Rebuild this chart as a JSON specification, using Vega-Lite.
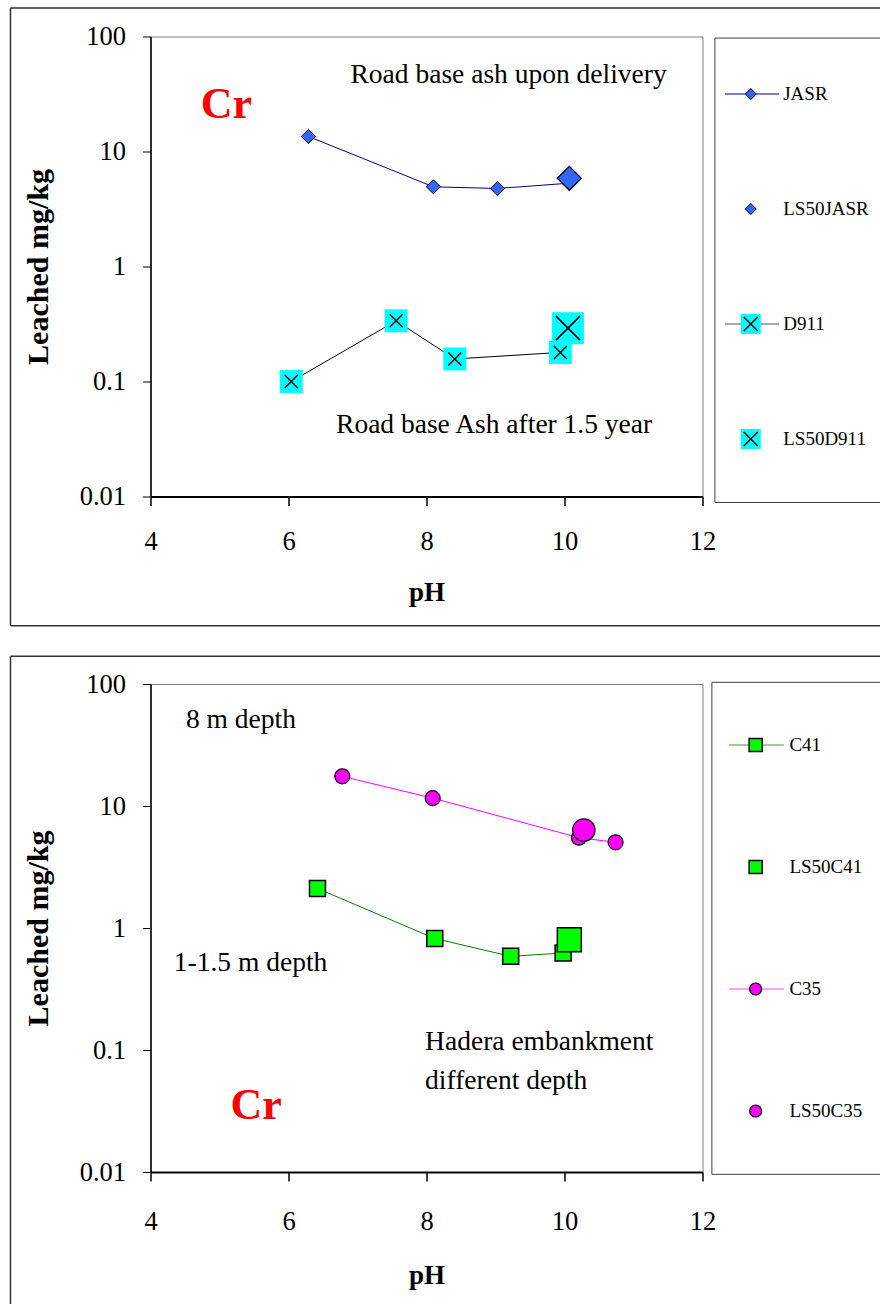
{
  "$schema": "https://vega.github.io/schema/vega-lite/v6.json",
  "padding": {"left": 8.5, "top": 6.5, "right": 0, "bottom": 0},
  "background": "white",
  "spacing": 27.5,
  "datasets": {
    "top": [
      {"series": "JASR", "pH": 6.29, "value": 13.5},
      {"series": "JASR", "pH": 8.10, "value": 4.93},
      {"series": "JASR", "pH": 9.03, "value": 4.77},
      {"series": "JASR", "pH": 10.07, "value": 5.3},
      {"series": "LS50JASR", "pH": 10.07, "value": 5.85},
      {"series": "D911", "pH": 6.04, "value": 0.100},
      {"series": "D911", "pH": 7.56, "value": 0.337},
      {"series": "D911", "pH": 8.41, "value": 0.157},
      {"series": "D911", "pH": 9.94, "value": 0.179},
      {"series": "LS50D911", "pH": 10.05, "value": 0.291}
    ],
    "bottom": [
      {"series": "C41", "pH": 6.42, "value": 2.11},
      {"series": "C41", "pH": 8.12, "value": 0.82},
      {"series": "C41", "pH": 9.22, "value": 0.586},
      {"series": "C41", "pH": 9.98, "value": 0.624},
      {"series": "LS50C41", "pH": 10.07, "value": 0.80},
      {"series": "C35", "pH": 6.78, "value": 17.5},
      {"series": "C35", "pH": 8.09, "value": 11.6},
      {"series": "C35", "pH": 10.21, "value": 5.5},
      {"series": "C35", "pH": 10.74, "value": 5.04},
      {"series": "LS50C35", "pH": 10.28, "value": 6.35}
    ],
    "topLegend": [{"series": "JASR"}, {"series": "LS50JASR"}, {"series": "D911"}, {"series": "LS50D911"}],
    "bottomLegend": [{"series": "C41"}, {"series": "LS50C41"}, {"series": "C35"}, {"series": "LS50C35"}],
    "one": [{}]
  },
  "vconcat": [
    {
      "width": 552,
      "height": 460,
      "resolve": {"scale": {"y": "independent"}},
      "layer": [
        {
          "layer": [
            {"data": {"name": "one"}, "mark": {"type": "rule", "color": "#333333", "strokeWidth": 1.5},
             "encoding": {"x": {"datum": 1.971, "type": "quantitative"}, "x2": {"datum": 14.6}, "y": {"datum": 176.6, "type": "quantitative"}}},
            {"data": {"name": "one"}, "mark": {"type": "rule", "color": "#333333", "strokeWidth": 1.5},
             "encoding": {"x": {"datum": 1.971, "type": "quantitative"}, "x2": {"datum": 14.6}, "y": {"datum": 0.000751, "type": "quantitative"}}},
            {"data": {"name": "one"}, "mark": {"type": "rule", "color": "#333333", "strokeWidth": 1.5},
             "encoding": {"x": {"datum": 1.971, "type": "quantitative"}, "y": {"datum": 176.6, "type": "quantitative"}, "y2": {"datum": 0.000751}}},
            {"data": {"name": "one"}, "mark": {"type": "rule", "color": "#404040", "strokeWidth": 1},
             "encoding": {"x": {"datum": 12.18, "type": "quantitative"}, "x2": {"datum": 14.6}, "y": {"datum": 96.9, "type": "quantitative"}}},
            {"data": {"name": "one"}, "mark": {"type": "rule", "color": "#404040", "strokeWidth": 1},
             "encoding": {"x": {"datum": 12.18, "type": "quantitative"}, "x2": {"datum": 14.6}, "y": {"datum": 0.00887, "type": "quantitative"}}},
            {"data": {"name": "one"}, "mark": {"type": "rule", "color": "#404040", "strokeWidth": 1},
             "encoding": {"x": {"datum": 12.18, "type": "quantitative"}, "y": {"datum": 96.9, "type": "quantitative"}, "y2": {"datum": 0.00887}}},
            {
              "data": {"name": "top"},
              "transform": [{"filter": "datum.series === 'JASR'"}],
              "mark": {"type": "line", "color": "#000080", "strokeWidth": 1},
              "encoding": {
                "x": {"field": "pH", "type": "quantitative", "title": "pH",
                      "scale": {"domain": [4, 12], "nice": false, "zero": false},
                      "axis": {"values": [4, 6, 8, 10, 12], "format": "d", "title": "pH", "titleFontSize": 27, "tickSize": 9, "labelPadding": 23, "titlePadding": 24, "domainWidth": 2, "tickWidth": 1.5, "labelFlush": false, "labelOverlap": false}},
                "y": {"field": "value", "type": "quantitative", "title": "Leached mg/kg",
                      "scale": {"type": "log", "domain": [0.01, 100], "nice": false},
                      "axis": {"values": [0.01, 0.1, 1, 10, 100], "format": "~g", "title": "Leached mg/kg", "titleFontSize": 30, "tickSize": 8, "labelPadding": 17, "titlePadding": 26, "domainWidth": 1.5, "labelFlush": false, "labelOverlap": false}}
              }
            },
            {
              "data": {"name": "top"},
              "transform": [{"filter": "datum.series === 'JASR'"}],
              "mark": {"type": "point", "shape": "diamond", "filled": true, "fill": "#3366ff", "stroke": "black", "strokeWidth": 1, "size": 196, "opacity": 1},
              "encoding": {"x": {"field": "pH", "type": "quantitative", "title": "pH"}, "y": {"field": "value", "type": "quantitative", "title": "Leached mg/kg"}}
            },
            {
              "data": {"name": "top"},
              "transform": [{"filter": "datum.series === 'LS50JASR'"}],
              "mark": {"type": "point", "shape": "diamond", "filled": true, "fill": "#3366ff", "stroke": "black", "strokeWidth": 1.2, "size": 576, "opacity": 1},
              "encoding": {"x": {"field": "pH", "type": "quantitative", "title": "pH"}, "y": {"field": "value", "type": "quantitative", "title": "Leached mg/kg"}}
            },
            {
              "data": {"name": "top"},
              "transform": [{"filter": "datum.series === 'D911'"}],
              "mark": {"type": "line", "color": "#000000", "strokeWidth": 1},
              "encoding": {"x": {"field": "pH", "type": "quantitative", "title": "pH"}, "y": {"field": "value", "type": "quantitative", "title": "Leached mg/kg"}}
            },
            {
              "data": {"name": "top"},
              "transform": [{"filter": "datum.series === 'D911'"}],
              "mark": {"type": "point", "shape": "square", "filled": true, "fill": "#00ffff", "strokeWidth": 0, "size": 529, "opacity": 1},
              "encoding": {"x": {"field": "pH", "type": "quantitative", "title": "pH"}, "y": {"field": "value", "type": "quantitative", "title": "Leached mg/kg"}}
            },
            {
              "data": {"name": "top"},
              "transform": [{"filter": "datum.series === 'D911'"}],
              "mark": {"type": "point", "shape": "M-1,-1L1,1M1,-1L-1,1", "filled": false, "stroke": "black", "strokeWidth": 1.5, "size": 169, "opacity": 1},
              "encoding": {"x": {"field": "pH", "type": "quantitative", "title": "pH"}, "y": {"field": "value", "type": "quantitative", "title": "Leached mg/kg"}}
            },
            {
              "data": {"name": "top"},
              "transform": [{"filter": "datum.series === 'LS50D911'"}],
              "mark": {"type": "point", "shape": "square", "filled": true, "fill": "#00ffff", "strokeWidth": 0, "size": 1024, "opacity": 1},
              "encoding": {"x": {"field": "pH", "type": "quantitative", "title": "pH"}, "y": {"field": "value", "type": "quantitative", "title": "Leached mg/kg"}}
            },
            {
              "data": {"name": "top"},
              "transform": [{"filter": "datum.series === 'LS50D911'"}],
              "mark": {"type": "point", "shape": "M-1,-1L1,1M1,-1L-1,1", "filled": false, "stroke": "black", "strokeWidth": 1.8, "size": 576, "opacity": 1},
              "encoding": {"x": {"field": "pH", "type": "quantitative", "title": "pH"}, "y": {"field": "value", "type": "quantitative", "title": "Leached mg/kg"}}
            },
            {"data": {"name": "one"}, "mark": {"type": "text", "text": "Road base ash upon delivery", "font": "Liberation Serif", "fontSize": 27.5, "align": "center", "baseline": "alphabetic", "color": "black"},
             "encoding": {"x": {"datum": 9.19, "type": "quantitative"}, "y": {"datum": 39.6, "type": "quantitative"}}},
            {"data": {"name": "one"}, "mark": {"type": "text", "text": "Road base Ash after 1.5 year", "font": "Liberation Serif", "fontSize": 27.5, "align": "center", "baseline": "alphabetic", "color": "black"},
             "encoding": {"x": {"datum": 8.98, "type": "quantitative"}, "y": {"datum": 0.0358, "type": "quantitative"}}},
            {"data": {"name": "one"}, "mark": {"type": "text", "text": "Cr", "font": "Liberation Serif", "fontSize": 44, "fontWeight": "bold", "align": "center", "baseline": "alphabetic", "color": "#ff0000"},
             "encoding": {"x": {"datum": 5.10, "type": "quantitative"}, "y": {"datum": 19.6, "type": "quantitative"}}}
          ]
        },
        {
          "data": {"name": "topLegend"},
          "encoding": {"y": {"field": "series", "type": "nominal", "sort": null, "scale": {"type": "point", "domain": ["JASR", "LS50JASR", "D911", "LS50D911"], "padding": 0.5}, "axis": null}},
          "layer": [
            {"transform": [{"filter": "datum.series === 'JASR'"}], "mark": {"type": "rule", "color": "#000080", "strokeWidth": 1},
             "encoding": {"x": {"datum": 12.326, "type": "quantitative"}, "x2": {"datum": 13.11}}},
            {"transform": [{"filter": "datum.series === 'D911'"}], "mark": {"type": "rule", "color": "#555555", "strokeWidth": 1},
             "encoding": {"x": {"datum": 12.326, "type": "quantitative"}, "x2": {"datum": 13.11}}},
            {"transform": [{"filter": "datum.series === 'JASR' || datum.series === 'LS50JASR'"}], "mark": {"type": "point", "shape": "diamond", "filled": true, "fill": "#3366ff", "stroke": "black", "strokeWidth": 1, "size": 121, "opacity": 1},
             "encoding": {"x": {"datum": 12.70, "type": "quantitative"}}},
            {"transform": [{"filter": "datum.series === 'D911' || datum.series === 'LS50D911'"}], "mark": {"type": "point", "shape": "square", "filled": true, "fill": "#00ffff", "strokeWidth": 0, "size": 400, "opacity": 1},
             "encoding": {"x": {"datum": 12.70, "type": "quantitative"}}},
            {"transform": [{"filter": "datum.series === 'D911' || datum.series === 'LS50D911'"}], "mark": {"type": "point", "shape": "M-1,-1L1,1M1,-1L-1,1", "filled": false, "stroke": "black", "strokeWidth": 1.5, "size": 196, "opacity": 1},
             "encoding": {"x": {"datum": 12.70, "type": "quantitative"}}},
            {"mark": {"type": "text", "align": "left", "baseline": "middle", "font": "Liberation Serif", "fontSize": 19, "color": "black"},
             "encoding": {"x": {"datum": 13.17, "type": "quantitative"}, "text": {"field": "series"}}}
          ]
        }
      ]
    },
    {
      "width": 552,
      "height": 488,
      "resolve": {"scale": {"y": "independent"}},
      "layer": [
        {
          "layer": [
            {"data": {"name": "one"}, "mark": {"type": "rule", "color": "#333333", "strokeWidth": 1.5},
             "encoding": {"x": {"datum": 1.971, "type": "quantitative"}, "x2": {"datum": 14.6}, "y": {"datum": 168.7, "type": "quantitative"}}},
            {"data": {"name": "one"}, "mark": {"type": "rule", "color": "#333333", "strokeWidth": 1.5},
             "encoding": {"x": {"datum": 1.971, "type": "quantitative"}, "y": {"datum": 168.7, "type": "quantitative"}, "y2": {"datum": 0.000807}}},
            {"data": {"name": "one"}, "mark": {"type": "rule", "color": "#404040", "strokeWidth": 1},
             "encoding": {"x": {"datum": 12.136, "type": "quantitative"}, "x2": {"datum": 14.6}, "y": {"datum": 103.2, "type": "quantitative"}}},
            {"data": {"name": "one"}, "mark": {"type": "rule", "color": "#404040", "strokeWidth": 1},
             "encoding": {"x": {"datum": 12.136, "type": "quantitative"}, "x2": {"datum": 14.6}, "y": {"datum": 0.00957, "type": "quantitative"}}},
            {"data": {"name": "one"}, "mark": {"type": "rule", "color": "#404040", "strokeWidth": 1},
             "encoding": {"x": {"datum": 12.136, "type": "quantitative"}, "y": {"datum": 103.2, "type": "quantitative"}, "y2": {"datum": 0.00957}}},
            {
              "data": {"name": "bottom"},
              "transform": [{"filter": "datum.series === 'C41'"}],
              "mark": {"type": "line", "color": "#008000", "strokeWidth": 1},
              "encoding": {
                "x": {"field": "pH", "type": "quantitative", "title": "pH",
                      "scale": {"domain": [4, 12], "nice": false, "zero": false},
                      "axis": {"values": [4, 6, 8, 10, 12], "format": "d", "title": "pH", "titleFontSize": 27, "tickSize": 9, "labelPadding": 27, "titlePadding": 28, "domainWidth": 2, "tickWidth": 1.5, "labelFlush": false, "labelOverlap": false}},
                "y": {"field": "value", "type": "quantitative", "title": "Leached mg/kg",
                      "scale": {"type": "log", "domain": [0.01, 100], "nice": false},
                      "axis": {"values": [0.01, 0.1, 1, 10, 100], "format": "~g", "title": "Leached mg/kg", "titleFontSize": 30, "tickSize": 8, "labelPadding": 17, "titlePadding": 26, "domainWidth": 1.5, "labelFlush": false, "labelOverlap": false}}
              }
            },
            {
              "data": {"name": "bottom"},
              "transform": [{"filter": "datum.series === 'C41'"}],
              "mark": {"type": "point", "shape": "square", "filled": true, "fill": "#00ff00", "stroke": "black", "strokeWidth": 1.5, "size": 256, "opacity": 1},
              "encoding": {"x": {"field": "pH", "type": "quantitative", "title": "pH"}, "y": {"field": "value", "type": "quantitative", "title": "Leached mg/kg"}}
            },
            {
              "data": {"name": "bottom"},
              "transform": [{"filter": "datum.series === 'LS50C41'"}],
              "mark": {"type": "point", "shape": "square", "filled": true, "fill": "#00ff00", "stroke": "black", "strokeWidth": 1.5, "size": 576, "opacity": 1},
              "encoding": {"x": {"field": "pH", "type": "quantitative", "title": "pH"}, "y": {"field": "value", "type": "quantitative", "title": "Leached mg/kg"}}
            },
            {
              "data": {"name": "bottom"},
              "transform": [{"filter": "datum.series === 'C35'"}],
              "mark": {"type": "line", "color": "#ff00ff", "strokeWidth": 1},
              "encoding": {"x": {"field": "pH", "type": "quantitative", "title": "pH"}, "y": {"field": "value", "type": "quantitative", "title": "Leached mg/kg"}}
            },
            {
              "data": {"name": "bottom"},
              "transform": [{"filter": "datum.series === 'C35'"}],
              "mark": {"type": "point", "shape": "circle", "filled": true, "fill": "#ff00ff", "stroke": "black", "strokeWidth": 1.2, "size": 225, "opacity": 1},
              "encoding": {"x": {"field": "pH", "type": "quantitative", "title": "pH"}, "y": {"field": "value", "type": "quantitative", "title": "Leached mg/kg"}}
            },
            {
              "data": {"name": "bottom"},
              "transform": [{"filter": "datum.series === 'LS50C35'"}],
              "mark": {"type": "point", "shape": "circle", "filled": true, "fill": "#ff00ff", "stroke": "black", "strokeWidth": 1.2, "size": 500, "opacity": 1},
              "encoding": {"x": {"field": "pH", "type": "quantitative", "title": "pH"}, "y": {"field": "value", "type": "quantitative", "title": "Leached mg/kg"}}
            },
            {"data": {"name": "one"}, "mark": {"type": "text", "text": "8 m depth", "font": "Liberation Serif", "fontSize": 27.5, "align": "center", "baseline": "alphabetic", "color": "black"},
             "encoding": {"x": {"datum": 5.31, "type": "quantitative"}, "y": {"datum": 43.4, "type": "quantitative"}}},
            {"data": {"name": "one"}, "mark": {"type": "text", "text": "1-1.5 m depth", "font": "Liberation Serif", "fontSize": 27.5, "align": "center", "baseline": "alphabetic", "color": "black"},
             "encoding": {"x": {"datum": 5.45, "type": "quantitative"}, "y": {"datum": 0.44, "type": "quantitative"}}},
            {"data": {"name": "one"}, "mark": {"type": "text", "text": ["Hadera embankment", "different depth"], "lineHeight": 39.4, "font": "Liberation Serif", "fontSize": 27.5, "align": "left", "baseline": "alphabetic", "color": "black"},
             "encoding": {"x": {"datum": 7.98, "type": "quantitative"}, "y": {"datum": 0.1007, "type": "quantitative"}}},
            {"data": {"name": "one"}, "mark": {"type": "text", "text": "Cr", "font": "Liberation Serif", "fontSize": 44, "fontWeight": "bold", "align": "center", "baseline": "alphabetic", "color": "#ff0000"},
             "encoding": {"x": {"datum": 5.53, "type": "quantitative"}, "y": {"datum": 0.027, "type": "quantitative"}}}
          ]
        },
        {
          "data": {"name": "bottomLegend"},
          "encoding": {"y": {"field": "series", "type": "nominal", "sort": null, "scale": {"type": "point", "domain": ["C41", "LS50C41", "C35", "LS50C35"], "padding": 0.5}, "axis": null}},
          "layer": [
            {"transform": [{"filter": "datum.series === 'C41'"}], "mark": {"type": "rule", "color": "#339933", "strokeWidth": 1},
             "encoding": {"x": {"datum": 12.387, "type": "quantitative"}, "x2": {"datum": 13.18}}},
            {"transform": [{"filter": "datum.series === 'C35'"}], "mark": {"type": "rule", "color": "#ff44ff", "strokeWidth": 1},
             "encoding": {"x": {"datum": 12.387, "type": "quantitative"}, "x2": {"datum": 13.18}}},
            {"transform": [{"filter": "datum.series === 'C41' || datum.series === 'LS50C41'"}], "mark": {"type": "point", "shape": "square", "filled": true, "fill": "#00ff00", "stroke": "black", "strokeWidth": 1.5, "size": 169, "opacity": 1},
             "encoding": {"x": {"datum": 12.77, "type": "quantitative"}}},
            {"transform": [{"filter": "datum.series === 'C35' || datum.series === 'LS50C35'"}], "mark": {"type": "point", "shape": "circle", "filled": true, "fill": "#ff00ff", "stroke": "black", "strokeWidth": 1.2, "size": 144, "opacity": 1},
             "encoding": {"x": {"datum": 12.77, "type": "quantitative"}}},
            {"mark": {"type": "text", "align": "left", "baseline": "middle", "font": "Liberation Serif", "fontSize": 19, "color": "black"},
             "encoding": {"x": {"datum": 13.26, "type": "quantitative"}, "text": {"field": "series"}}}
          ]
        }
      ]
    }
  ],
  "config": {
    "view": {"stroke": "#808080", "strokeWidth": 1},
    "axis": {
      "labelFont": "Liberation Serif", "labelFontSize": 26.5, "labelColor": "black",
      "titleFont": "Liberation Serif", "titleFontSize": 27, "titleFontWeight": "bold", "titleColor": "black",
      "domainColor": "black", "tickColor": "black", "grid": false
    },
    "text": {"font": "Liberation Serif"}
  }
}
